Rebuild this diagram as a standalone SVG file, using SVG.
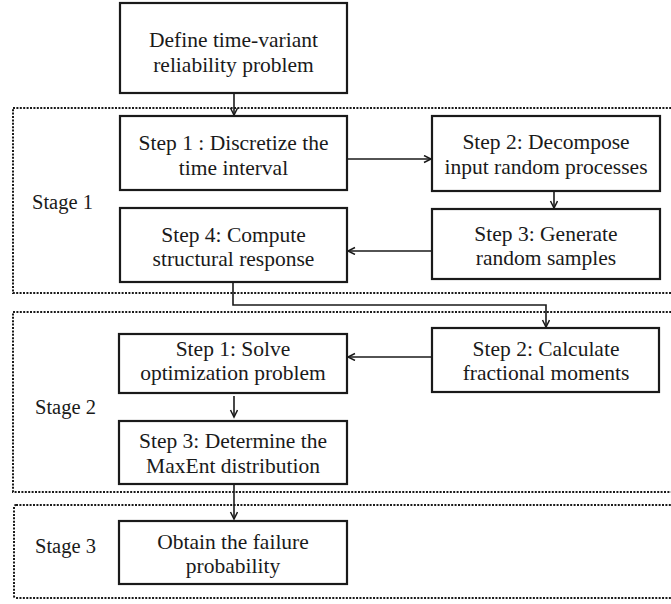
<svg xmlns="http://www.w3.org/2000/svg" width="671" height="604" viewBox="0 0 671 604">
<defs>
<marker id="ah" markerWidth="10" markerHeight="10" refX="8" refY="4" orient="auto" markerUnits="userSpaceOnUse">
<path d="M1,0.5 L8,4 L1,7.5" fill="none" stroke="#1a1a1a" stroke-width="1.5"/>
</marker>
</defs>
<style>
.box{fill:#fff;stroke:#1a1a1a;stroke-width:2.2}
.stage{fill:none;stroke:#1a1a1a;stroke-width:2;stroke-dasharray:2 1.4}
.t{font-family:"Liberation Serif","Times New Roman",serif;font-size:21.5px;fill:#1a1a1a;text-anchor:middle}
.lbl{font-family:"Liberation Serif","Times New Roman",serif;font-size:20.5px;fill:#1a1a1a}
.c{fill:none;stroke:#1a1a1a;stroke-width:1.6}
</style>
<g id="stages">
<rect class="stage" x="13" y="108" width="670" height="185"/>
<rect class="stage" x="13" y="312" width="670" height="180"/>
<rect class="stage" x="14" y="505" width="670" height="93" rx="2"/>
<text class="lbl" x="32" y="209">Stage 1</text>
<text class="lbl" x="35" y="414">Stage 2</text>
<text class="lbl" x="35" y="553">Stage 3</text>
</g>
<g id="connectors">
<line class="c" x1="234" y1="93" x2="234" y2="115" marker-end="url(#ah)"/>
<line class="c" x1="347" y1="159" x2="431" y2="159" marker-end="url(#ah)"/>
<line class="c" x1="554" y1="191" x2="554" y2="208" marker-end="url(#ah)"/>
<line class="c" x1="432" y1="251" x2="348" y2="251" marker-end="url(#ah)"/>
<polyline class="c" points="233,282 233,305 546,305 546,327" marker-end="url(#ah)"/>
<line class="c" x1="432" y1="357" x2="348" y2="357" marker-end="url(#ah)"/>
<line class="c" x1="234" y1="396" x2="234" y2="417" marker-end="url(#ah)"/>
<line class="c" x1="234" y1="484" x2="234" y2="519" marker-end="url(#ah)"/>
</g>
<g id="n0">
<rect class="box" x="120" y="3" width="227" height="90"/>
<text class="t" x="233.5" y="47">Define time-variant</text>
<text class="t" x="233.5" y="72">reliability problem</text>
</g>
<g id="s1">
<rect class="box" x="120" y="116" width="227" height="74"/>
<text class="t" x="233.5" y="150">Step 1 : Discretize the</text>
<text class="t" x="233.5" y="175">time interval</text>
</g>
<g id="s2">
<rect class="box" x="432" y="116" width="228" height="75"/>
<text class="t" x="546" y="149">Step 2: Decompose</text>
<text class="t" x="546" y="174">input random processes</text>
</g>
<g id="s3">
<rect class="box" x="432" y="209" width="228" height="70"/>
<text class="t" x="546" y="241">Step 3: Generate</text>
<text class="t" x="546" y="265">random samples</text>
</g>
<g id="s4">
<rect class="box" x="120" y="208" width="227" height="74"/>
<text class="t" x="233.5" y="242">Step 4: Compute</text>
<text class="t" x="233.5" y="266">structural response</text>
</g>
<g id="s2_1">
<rect class="box" x="119" y="334" width="228" height="59"/>
<text class="t" x="233" y="356">Step 1: Solve</text>
<text class="t" x="233" y="380">optimization problem</text>
</g>
<g id="s2_2">
<rect class="box" x="432" y="328" width="227" height="64"/>
<text class="t" x="546" y="356">Step 2: Calculate</text>
<text class="t" x="546" y="380">fractional moments</text>
</g>
<g id="s2_3">
<rect class="box" x="119" y="421" width="228" height="63"/>
<text class="t" x="233" y="448">Step 3: Determine the</text>
<text class="t" x="233" y="473">MaxEnt distribution</text>
</g>
<g id="s3_1">
<rect class="box" x="119" y="521" width="228" height="63"/>
<text class="t" x="233" y="549">Obtain the failure</text>
<text class="t" x="233" y="573">probability</text>
</g>
</svg>
